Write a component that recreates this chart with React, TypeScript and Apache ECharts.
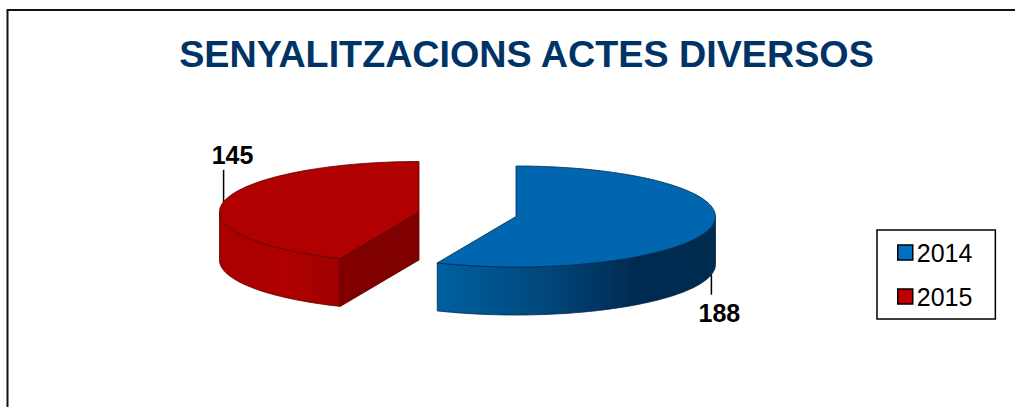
import React, { useEffect, useRef } from "react";
import * as echarts from "echarts";

const titleText = "SENYALITZACIONS ACTES DIVERSOS";
const years = ["2014", "2015"];
const values = [188, 145];

const FONT = '"Liberation Sans", Arial, sans-serif';
const RX = 199.5;
const RY = 50.5;
const DEPTH = 48;
const centers = [
  [516, 216.5],
  [419, 212],
];
const topColors = ["#0066B0", "#B00000"];
const legendColors = ["#0070C0", "#C00000"];
const edgeColors = ["#00284a", "#5a0000"];
const cutColors = ["#00284a", "#800000"];
const wallStops = [
  [
    [0, "#00609F"],
    [0.35, "#004A80"],
    [0.72, "#002A50"],
    [1, "#002C50"],
  ],
  [
    [0, "#A80000"],
    [0.55, "#B00000"],
    [1, "#A00000"],
  ],
];
const leaderLengths = [20, 32];
const labelOffsets = [
  [8, 18],
  [9, -15],
];

function makeRenderItem(idx: number) {
  return (_params: any, api: any) => {
    const total = values.reduce((a, b) => a + b, 0);
    const before = values.slice(0, idx).reduce((a, b) => a + b, 0);
    const value = api.value(0);
    const a0 = (before / total) * Math.PI * 2;
    const a1 = ((before + value) / total) * Math.PI * 2;
    const [cx, cy] = centers[idx];
    const pt = (a: number, dy = 0) => [cx + RX * Math.sin(a), cy - RY * Math.cos(a) + dy];
    const arc = (s: number, e: number, dy = 0) => {
      const n = Math.max(2, Math.ceil(Math.abs(e - s) / 0.02));
      const out: number[][] = [];
      for (let i = 0; i <= n; i++) out.push(pt(s + ((e - s) * i) / n, dy));
      return out;
    };
    const children: any[] = [];
    const edge = { stroke: edgeColors[idx], lineWidth: 0.8 };

    // Outer wall: the part of the rim facing the viewer (90deg to 270deg)
    const ws = Math.max(a0, Math.PI / 2);
    const we = Math.min(a1, (Math.PI * 3) / 2);
    if (we > ws) {
      children.push({
        type: "polygon",
        shape: { points: [...arc(ws, we), ...arc(we, ws, DEPTH)] },
        style: {
          fill: new echarts.graphic.LinearGradient(
            0, 0, 1, 0,
            wallStops[idx].map(([offset, color]) => ({ offset, color })) as any
          ),
          ...edge,
        },
      });
    }
    // Cut face looking to the viewer (only the slice starting at the rear side)
    if (a1 > Math.PI * 1.5) {
      const c = [cx, cy];
      const p = pt(a0);
      children.push({
        type: "polygon",
        shape: { points: [c, p, [p[0], p[1] + DEPTH], [c[0], c[1] + DEPTH]] },
        style: { fill: cutColors[idx], ...edge },
      });
    }
    // Top face
    children.push({
      type: "polygon",
      shape: { points: [[cx, cy], ...arc(a0, a1)] },
      style: { fill: topColors[idx], ...edge },
    });

    // Leader line and value label, from the slice's mid angle
    const mid = (a0 + a1) / 2;
    const front = Math.cos(mid) < 0 && idx === 0;
    const anchor = pt(mid, front ? DEPTH : 0);
    const dir = front ? 1 : -1;
    const end = [anchor[0], anchor[1] + dir * leaderLengths[idx]];
    children.push({
      type: "line",
      shape: { x1: anchor[0], y1: anchor[1], x2: end[0], y2: end[1] },
      style: { stroke: "#000", lineWidth: 1.5 },
    });
    children.push({
      type: "text",
      style: {
        text: String(value),
        x: end[0] + labelOffsets[idx][0],
        y: end[1] + labelOffsets[idx][1],
        align: "center",
        verticalAlign: "middle",
        font: `bold 25px ${FONT}`,
        fill: "#000",
      },
    });
    return { type: "group", children };
  };
}

export default function App() {
  const ref = useRef<HTMLDivElement>(null);
  useEffect(() => {
    const chart = echarts.init(ref.current!, null, { renderer: "svg" });
    chart.setOption({
      animation: false,
      backgroundColor: "#fff",
      title: {
        text: titleText,
        left: 521.5,
        top: 30,
        textAlign: "center",
        textStyle: { fontFamily: FONT, fontWeight: "bold", fontSize: 37.7, color: "#003366" },
      },
      legend: {
        left: 877,
        top: 230,
        orient: "vertical",
        icon: "rect",
        itemWidth: 15,
        itemHeight: 15,
        itemGap: 19,
        padding: [10, 23, 10, 20],
        borderColor: "#000",
        borderWidth: 1.5,
        backgroundColor: "#fff",
        selectedMode: false,
        textStyle: { fontFamily: FONT, fontSize: 25, color: "#000", padding: [0, 0, 0, -1] },
        data: years.map((name, i) => ({
          name,
          itemStyle: { color: legendColors[i], borderColor: "#000", borderWidth: 1.5 },
        })),
      },
      graphic: [
        { type: "line", silent: true, z: -1, shape: { x1: 7.5, y1: 10, x2: 1015, y2: 10 }, style: { stroke: "#111", lineWidth: 2 } },
        { type: "line", silent: true, z: -1, shape: { x1: 7.5, y1: 9, x2: 7.5, y2: 407 }, style: { stroke: "#111", lineWidth: 2 } },
      ],
      series: years.map((name, i) => ({
        type: "custom",
        name,
        coordinateSystem: "none",
        renderItem: makeRenderItem(i),
        itemStyle: { color: legendColors[i] },
        data: [[values[i]]],
      })),
    });
    return () => chart.dispose();
  }, []);
  return <div ref={ref} style={{ position: "fixed", left: 0, top: 0, width: 1015, height: 407 }} />;
}
